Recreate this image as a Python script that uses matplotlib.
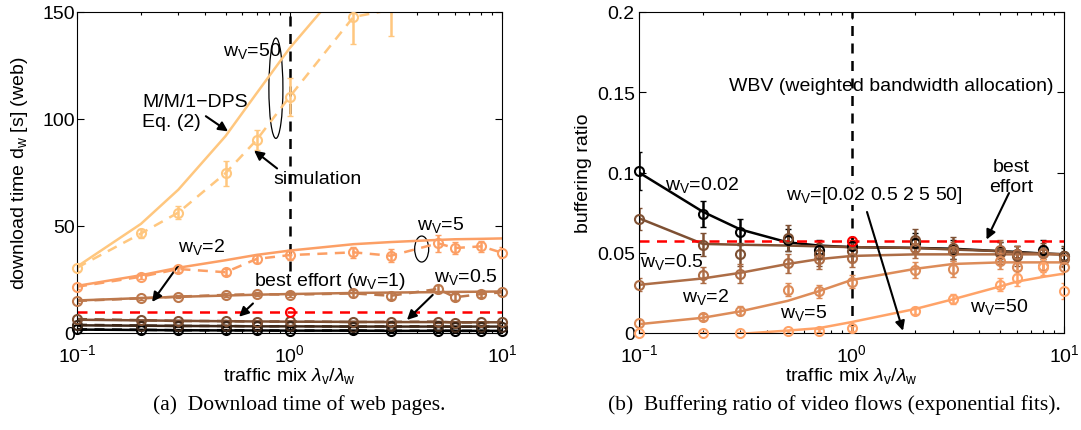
import numpy as np
import matplotlib
matplotlib.use('Agg')
import matplotlib.pyplot as plt
from matplotlib.patches import Ellipse

plt.rcParams['font.family'] = ['Liberation Sans', 'DejaVu Sans']
plt.rcParams['mathtext.fontset'] = 'custom'
plt.rcParams['mathtext.rm'] = 'Liberation Sans'
plt.rcParams['mathtext.it'] = 'Liberation Sans:italic'
plt.rcParams['mathtext.sf'] = 'Liberation Sans'
plt.rcParams['font.size'] = 14

# traffic mix lambda_v / lambda_w
x_mix = [0.1, 0.2, 0.3, 0.5, 0.7, 1, 2, 3, 5, 6, 8, 10]

# (a) download time of web pages [s]
web_weights = ['0.02', '0.1', '0.5', '2', '5', '50']
web_model_002 = [1.6, 1.4, 1.3, 1.2, 1.2, 1.1, 1.1, 1.0, 1.0, 1.0, 1.0, 1.0]
web_sim_002 = [1.7, 1.5, 1.3, 1.3, 1.2, 1.1, 1.2, 1.0, 1.1, 1.0, 1.0, 1.0]
web_model_01 = [3.6, 3.4, 3.3, 3.2, 3.1, 3.1, 3.0, 3.0, 3.0, 3.0, 3.0, 3.0]
web_sim_01 = [3.8, 3.5, 3.3, 3.3, 3.1, 3.2, 3.0, 3.1, 3.1, 2.9, 3.0, 3.0]
web_model_05 = [6.2, 5.9, 5.7, 5.5, 5.4, 5.3, 5.2, 5.1, 5.1, 5.0, 5.0, 5.0]
web_sim_05 = [6.5, 6.0, 5.6, 5.6, 5.3, 5.4, 5.1, 5.2, 5.3, 4.9, 5.0, 5.2]
web_model_2 = [15.2, 16.3, 16.9, 17.5, 17.9, 18.2, 18.7, 18.9, 19.1, 19.2, 19.3, 19.4]
web_sim_2 = [15.0, 16.2, 17.0, 17.8, 18.2, 17.9, 18.5, 17.4, 20.6, 16.7, 18.2, 19.0]
web_model_5 = [22, 27, 30.5, 34, 36.5, 38.5, 41.5, 42.5, 43.5, 43.8, 44, 44.2]
web_sim_5 = [21.6, 26.3, 29.9, 28.4, 34.6, 36.4, 37.7, 36.1, 41.9, 39.7, 40.5, 37.5]
web_model_50 = [31, 51, 67, 92, 112, 133, 168, 195, 230, 245, 265, 280]
web_sim_50 = [30.5, 46.5, 56.3, 74.7, 90.2, 110.3, 147.7, 151, 190, 205, 225, 240]
web_err_small = [0.3, 0.3, 0.3, 0.3, 0.3, 0.3, 0.3, 0.3, 0.4, 0.3, 0.3, 0.3]
web_err_2 = [0.8, 0.8, 0.8, 1.0, 1.0, 1.2, 1.5, 1.5, 2.0, 1.5, 1.2, 1.2]
web_err_5 = [1.0, 1.2, 1.5, 1.5, 2.0, 2.5, 2.5, 3.0, 4.0, 3.0, 2.5, 2.5]
web_err_50 = [1.5, 2, 3, 5.8, 4.6, 8.9, 12.7, 12, 15, 15, 18, 20]
web_best_effort = 9.7

# (b) buffering ratio of video flows
buf_weights = ['0.02', '0.5', '2', '5', '50']
buf_fit_002 = [0.100, 0.0755, 0.0645, 0.0565, 0.0545, 0.0535, 0.053, 0.0525, 0.051, 0.0505, 0.0495, 0.049]
buf_sim_002 = [0.101, 0.074, 0.063, 0.058, 0.052, 0.054, 0.056, 0.052, 0.051, 0.049, 0.052, 0.048]
buf_err_002 = [0.012, 0.008, 0.008, 0.007, 0.006, 0.006, 0.006, 0.006, 0.006, 0.005, 0.006, 0.005]
buf_fit_05 = [0.0715, 0.0555, 0.055, 0.0545, 0.054, 0.0535, 0.053, 0.052, 0.051, 0.050, 0.0495, 0.049]
buf_sim_05 = [0.071, 0.055, 0.049, 0.059, 0.049, 0.051, 0.058, 0.053, 0.050, 0.048, 0.050, 0.048]
buf_err_05 = [0.007, 0.007, 0.007, 0.008, 0.007, 0.007, 0.007, 0.007, 0.007, 0.006, 0.006, 0.006]
buf_fit_2 = [0.030, 0.034, 0.0375, 0.043, 0.046, 0.048, 0.049, 0.049, 0.049, 0.049, 0.049, 0.049]
buf_sim_2 = [0.030, 0.036, 0.037, 0.0435, 0.046, 0.047, 0.053, 0.051, 0.052, 0.049, 0.050, 0.046]
buf_err_2 = [0.004, 0.005, 0.006, 0.006, 0.006, 0.006, 0.006, 0.006, 0.006, 0.005, 0.005, 0.005]
buf_fit_5 = [0.0055, 0.0095, 0.0135, 0.020, 0.026, 0.033, 0.040, 0.043, 0.044, 0.044, 0.044, 0.044]
buf_sim_5 = [0.006, 0.010, 0.014, 0.027, 0.026, 0.032, 0.039, 0.040, 0.045, 0.041, 0.042, 0.041]
buf_err_5 = [0.002, 0.002, 0.003, 0.004, 0.004, 0.004, 0.005, 0.005, 0.005, 0.004, 0.004, 0.004]
buf_fit_50 = [-0.012, -0.007, -0.0005, 0.0015, 0.003, 0.0068, 0.015, 0.021, 0.029, 0.032, 0.035, 0.037]
buf_sim_50 = [0.0, 0.0, 0.0, 0.001, 0.0015, 0.003, 0.014, 0.021, 0.030, 0.034, 0.041, 0.026]
buf_err_50 = [0.0005, 0.0005, 0.0005, 0.001, 0.001, 0.0015, 0.002, 0.003, 0.004, 0.005, 0.005, 0.005]
buf_best_effort = 0.0575

cmap = plt.get_cmap('copper')
web_colors = [cmap(v) for v in np.linspace(0, 1, len(web_weights))]
buf_colors = [cmap(v) for v in [0.0, 0.4, 0.55, 0.7, 0.82]]

fig = plt.figure(figsize=(10.81, 4.31), dpi=100)
ax1 = fig.add_axes([77 / 1081, 1 - 334 / 431, 425 / 1081, 321 / 431])
ax2 = fig.add_axes([639 / 1081, 1 - 334 / 431, 425 / 1081, 321 / 431])


def style_axis(ax, ypad):
    ax.set_xscale('log')
    ax.set_xlim(0.1, 10)
    ax.tick_params(which='both', direction='in', top=True, right=True, width=0.8)
    ax.tick_params(which='major', length=5)
    ax.tick_params(which='minor', length=2.5)
    ax.tick_params(axis='x', pad=7)
    ax.tick_params(axis='y', pad=ypad)
    for s in ax.spines.values():
        s.set_linewidth(0.8)
    ax.set_xlabel(r'traffic mix $\lambda_{\rm v}/\lambda_{\rm w}$')
    ax.xaxis.set_label_coords(0.5, -0.1)


def sim_markers(ax, y, color, ylim):
    # markers are not cut at the axes box, the lines are
    y = np.array(y)
    x = np.array(x_mix)
    ok = (y >= ylim[0]) & (y <= ylim[1])
    ax.plot(x[ok], y[ok], 'o', ms=6.5, mfc='none', mec=color, mew=1.5, clip_on=False, zorder=4)


# ---- (a) ----
web_model = [web_model_002, web_model_01, web_model_05, web_model_2, web_model_5, web_model_50]
web_sim = [web_sim_002, web_sim_01, web_sim_05, web_sim_2, web_sim_5, web_sim_50]
web_err = [web_err_small, web_err_small, web_err_small, web_err_2, web_err_5, web_err_50]
for m, s, e, c in zip(web_model, web_sim, web_err, web_colors):
    ax1.plot(x_mix, m, '-', color=c, lw=1.8)
    ax1.errorbar(x_mix, s, yerr=e, fmt='--', color=c, lw=1.8, elinewidth=1.8, capsize=2, dashes=(4, 3))
    sim_markers(ax1, s, c, (0, 150))
ax1.axhline(web_best_effort, color='r', ls='--', lw=1.8, dashes=(4, 3))
ax1.plot([1], [web_best_effort], 'o', ms=6.5, mfc='none', mec='r', mew=1.5, zorder=5)
ax1.plot([1, 1], [29, 150], 'k--', lw=1.8, dashes=(4, 3), zorder=1)
ax1.set_ylim(0, 150)
ax1.set_yticks([0, 50, 100, 150])
style_axis(ax1, 1.5)
ax1.set_ylabel(r'download time d$_{\rm w}$ [s] (web)')
ax1.yaxis.set_label_coords(-0.11, 0.5)

arr = dict(arrowstyle='-|>', color='k', lw=1.5, mutation_scale=14, shrinkA=0, shrinkB=0)
ax1.text(0.666, 132.2, r'w$_{\rm V}$=50', ha='center', va='center')
ax1.add_patch(Ellipse((0.468, 0.7625), 0.033, 0.3125, transform=ax1.transAxes, fill=False, lw=0.9))
ax1.text(0.202, 103.4, 'M/M/1\u2212DPS\nEq. (2)', ha='left', va='center')
ax1.annotate('', xy=(0.514, 94.2), xytext=(0.404, 101.3), arrowprops=arr)
ax1.text(0.836, 72.2, 'simulation', ha='left', va='center')
ax1.annotate('', xy=(0.681, 85.3), xytext=(0.874, 76.9), arrowprops=arr)
ax1.text(3.98, 51.1, r'w$_{\rm V}$=5', ha='left', va='center')
ax1.add_patch(Ellipse((0.811, 0.2616), 0.033, 0.081, transform=ax1.transAxes, fill=False, lw=0.9))
ax1.text(0.299, 40.5, r'w$_{\rm V}$=2', ha='left', va='center')
ax1.annotate('', xy=(0.2256, 14.5), xytext=(0.299, 31.4), arrowprops=arr)
ax1.text(0.681, 24.4, r'best effort (w$_{\rm V}$=1)', ha='left', va='center')
ax1.annotate('', xy=(0.579, 7.6), xytext=(0.673, 13.8), arrowprops=arr)
ax1.text(4.786, 26.7, r'w$_{\rm V}$=0.5', ha='left', va='center')
ax1.annotate('', xy=(3.57, 6.1), xytext=(4.72, 17.8), arrowprops=arr)

# ---- (b) ----
buf_fit = [buf_fit_002, buf_fit_05, buf_fit_2, buf_fit_5, buf_fit_50]
buf_sim = [buf_sim_002, buf_sim_05, buf_sim_2, buf_sim_5, buf_sim_50]
buf_err = [buf_err_002, buf_err_05, buf_err_2, buf_err_5, buf_err_50]
for f, s, e, c in zip(buf_fit, buf_sim, buf_err, buf_colors):
    ax2.plot(x_mix, f, '-', color=c, lw=1.8)
    ax2.errorbar(x_mix, s, yerr=e, fmt='none', ecolor=c, elinewidth=1.8, capsize=2)
    sim_markers(ax2, s, c, (0, 0.2))
ax2.axhline(buf_best_effort, color='r', ls='--', lw=1.8, dashes=(4, 3))
ax2.plot([1], [buf_best_effort], 'o', ms=6.5, mfc='none', mec='r', mew=1.5, zorder=5)
ax2.plot([1, 1], [0, 0.2], 'k--', lw=1.8, dashes=(4, 3), zorder=1)
ax2.set_ylim(0, 0.2)
ax2.set_yticks([0, 0.05, 0.1, 0.15, 0.2])
ax2.set_yticklabels(['0', '0.05', '0.1', '0.15', '0.2'])
style_axis(ax2, 3)
ax2.set_ylabel('buffering ratio')
ax2.yaxis.set_label_coords(-0.11, 0.5)

ax2.text(0.264, 0.154, 'WBV (weighted bandwidth allocation)', ha='left', va='center')
ax2.text(0.132, 0.0928, r'w$_{\rm V}$=0.02', ha='left', va='center')
ax2.text(5.62, 0.0976, 'best\neffort', ha='center', va='center')
ax2.annotate('', xy=(4.32, 0.0582), xytext=(5.51, 0.0872), arrowprops=arr)
ax2.text(0.492, 0.0862, r'w$_{\rm V}$=[0.02 0.5 2 5 50]', ha='left', va='center',
         bbox=dict(fc='white', ec='none', pad=0))
ax2.annotate('', xy=(1.747, 0.0014), xytext=(1.183, 0.0754), arrowprops=arr)
ax2.text(0.101, 0.045, r'w$_{\rm V}$=0.5', ha='left', va='center')
ax2.text(0.159, 0.0232, r'w$_{\rm V}$=2', ha='left', va='center')
ax2.text(0.461, 0.0131, r'w$_{\rm V}$=5', ha='left', va='center')
ax2.text(3.61, 0.0171, r'w$_{\rm V}$=50', ha='left', va='center')

fig.text(299 / 1081, 1 - 405 / 431, '(a)  Download time of web pages.', ha='center', va='center',
         family='Liberation Serif', size=15.5)
fig.text(834 / 1081, 1 - 405 / 431, '(b)  Buffering ratio of video flows (exponential fits).', ha='center',
         va='center', family='Liberation Serif', size=15.5)

fig.savefig('out.png', dpi=100)
